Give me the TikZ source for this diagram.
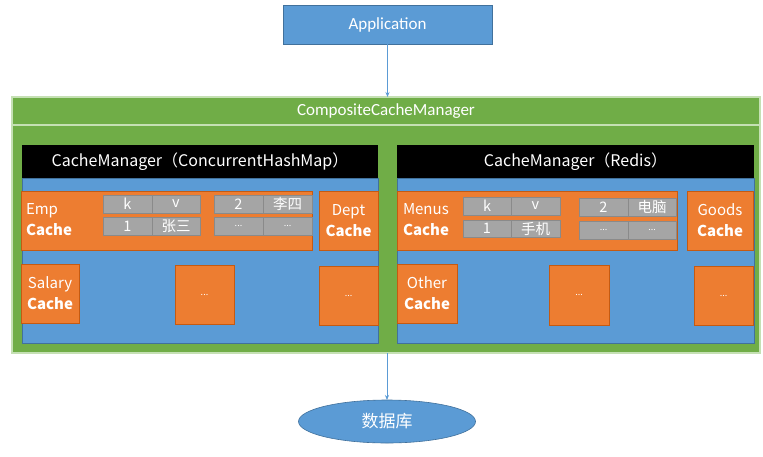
\documentclass[tikz,border=0pt]{standalone}
\usepackage{fontspec}
\setmainfont{Carlito}
\newfontfamily\yh{Noto Sans CJK SC}
\usetikzlibrary{shapes.geometric,arrows.meta}
\definecolor{cblue}{HTML}{5B9BD5}
\definecolor{cbluedk}{HTML}{41719C}
\definecolor{cgreen}{HTML}{70AD47}
\definecolor{cgreenlt}{HTML}{C5E0B4}
\definecolor{corange}{HTML}{ED7D31}
\definecolor{corangedk}{HTML}{C55A11}
\definecolor{cgrey}{HTML}{A5A5A5}
\definecolor{cgreydk}{HTML}{8A8A8A}
\newcommand\placebox[7]{\node[#1, anchor=north west, minimum width={(#4-#2)*1pt}, minimum height={(#5-#3)*1pt}] (#6) at (#2,#3) {#7};}
\begin{document}
\begin{tikzpicture}[x=1pt,y=-1pt,
  every node/.style={inner sep=0pt, outer sep=0pt, text=white, align=center},
  appbox/.style={fill=cblue, draw=cbluedk, line width=0.6pt, font=\fontsize{17}{20}\selectfont},
  greenbar/.style={fill=cgreen, draw=cgreenlt, line width=1.2pt, font=\fontsize{17}{20}\selectfont},
  greenpanel/.style={fill=cgreen, draw=cgreenlt, line width=1.2pt},
  header/.style={fill=black, font=\yh\fontsize{16}{18}\selectfont},
  body/.style={fill=cblue, draw=cbluedk, line width=0.4pt},
  obox/.style={fill=corange, draw=corangedk, line width=0.5pt, font=\yh\fontsize{15}{21}\selectfont},
  cell/.style={fill=cgrey, draw=cgreydk, line width=0.6pt, font=\yh\fontsize{14.5}{15}\selectfont},
  lbl/.style={font=\yh\fontsize{15}{21}\selectfont, align=left, anchor=west},
  conn/.style={draw=cblue, line width=0.8pt, -{Stealth[length=5pt,width=4pt]}},
  dbnode/.style={ellipse, fill=cblue, draw=cbluedk, line width=0.6pt, minimum width=177pt, minimum height=43pt, font=\yh\fontsize{17}{20}\selectfont}
]
\useasboundingbox (0,0) rectangle (763,456);
\fill[white] (0,0) rectangle (763,456);

% Application
\placebox{appbox}{283}{5}{492}{44}{app}{Application}

% Composite frame
\placebox{greenpanel}{12}{125}{760}{353}{panel}{}
\placebox{greenbar}{12}{97}{760}{125}{comp}{CompositeCacheManager}

% Left cache manager
\placebox{header}{22}{145}{378}{178}{lhead}{CacheManager（ConcurrentHashMap）}
\placebox{body}{22}{178}{378}{343}{lbody}{}
\placebox{obox}{21}{191}{312}{250}{emp}{}
\node[lbl] (emptxt) at (26,220) {Emp\\\textbf{Cache}};
\placebox{cell}{103}{195}{152}{213}{lk}{k}
\placebox{cell}{152}{195}{200}{213}{lv}{v}
\placebox{cell}{103}{217}{152}{235}{l1}{1}
\placebox{cell}{152}{217}{200}{235}{l1v}{张三}
\placebox{cell}{214}{195}{263}{213}{l2}{2}
\placebox{cell}{263}{195}{312}{213}{l2v}{李四}
\placebox{cell}{214}{217}{263}{235}{ld1}{\fontsize{9}{10}\selectfont...}
\placebox{cell}{263}{217}{312}{235}{ld2}{\fontsize{9}{10}\selectfont...}
\placebox{obox}{319}{191}{378}{250}{dept}{Dept\\\textbf{Cache}}
\placebox{obox}{21}{264}{79}{323}{salary}{Salary\\\textbf{Cache}}
\placebox{obox}{175}{265}{234}{324}{lm}{\fontsize{9}{10}\selectfont...}
\placebox{obox}{319}{266}{378}{325}{lr}{\fontsize{9}{10}\selectfont...}

% Right cache manager
\placebox{header}{397}{145}{754}{178}{rhead}{CacheManager（Redis）}
\placebox{body}{397}{178}{754}{343}{rbody}{}
\placebox{obox}{397}{191}{677}{250}{menus}{}
\node[lbl] (menustxt) at (403,220) {Menus\\\textbf{Cache}};
\placebox{cell}{463}{197}{511}{215}{rk}{k}
\placebox{cell}{511}{197}{560}{215}{rv}{v}
\placebox{cell}{463}{220}{511}{237}{r1}{1}
\placebox{cell}{511}{220}{560}{237}{r1v}{手机}
\placebox{cell}{579}{198}{628}{216}{r2}{2}
\placebox{cell}{628}{198}{676}{216}{r2v}{电脑}
\placebox{cell}{579}{221}{628}{239}{rd1}{\fontsize{9}{10}\selectfont...}
\placebox{cell}{628}{221}{676}{239}{rd2}{\fontsize{9}{10}\selectfont...}
\placebox{obox}{687}{191}{753}{250}{goods}{Goods\\\textbf{Cache}}
\placebox{obox}{397}{264}{457}{323}{other}{Other\\\textbf{Cache}}
\placebox{obox}{549}{265}{609}{325}{rm}{\fontsize{9}{10}\selectfont...}
\placebox{obox}{694}{266}{753}{325}{rr}{\fontsize{9}{10}\selectfont...}

% Database
\node[dbnode] (db) at (387,421.5) {数据库};

% Connectors
\draw[conn] (app.south) -- (comp.north -| app.south);
\draw[conn] (panel.south -| db.north) -- (db.north);
\end{tikzpicture}
\end{document}
